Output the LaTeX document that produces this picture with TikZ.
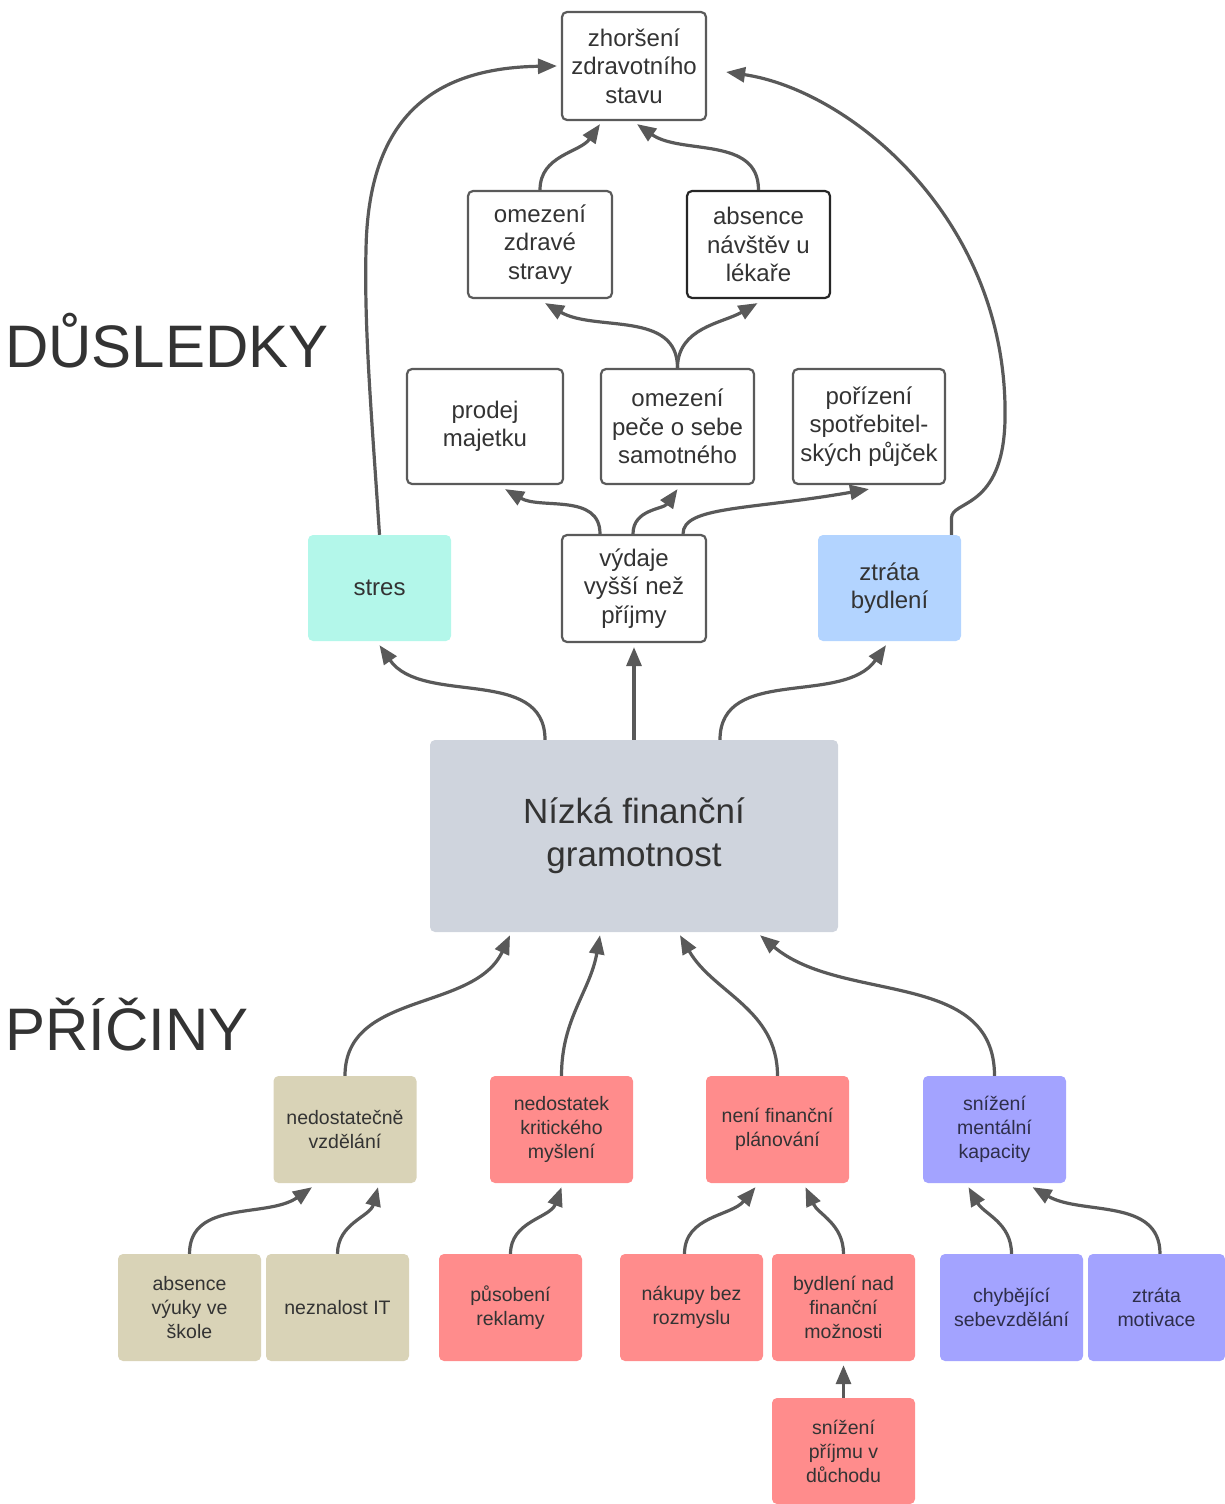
\documentclass[tikz,border=0pt]{standalone}
\usepackage{fontspec}
\setmainfont{Liberation Sans}
\usetikzlibrary{arrows.meta}
\definecolor{linegray}{HTML}{5A5A5A}
\definecolor{arrgray}{HTML}{595959}
\definecolor{txt}{HTML}{333333}
\definecolor{mint}{HTML}{B3F7EA}
\definecolor{skyb}{HTML}{B3D4FF}
\definecolor{grayc}{HTML}{CFD4DD}
\definecolor{tan}{HTML}{D9D3B7}
\definecolor{salmon}{HTML}{FF8C8C}
\definecolor{lav}{HTML}{A3A3FF}
\definecolor{lavtxt}{HTML}{2E2E4A}
\tikzset{
  wbox/.style={draw=linegray, line width=2.2pt, fill=white, rounded corners=5pt,
    inner sep=0pt, align=center, text=txt, font=\fontsize{24}{28.5}\selectfont},
  cbox/.style={rounded corners=5pt, inner sep=0pt, align=center, text=txt,
    font=\fontsize{19.5}{24}\selectfont, minimum width=143pt, minimum height=107pt},
  ubox/.style={rounded corners=5pt, inner sep=0pt, align=center, text=txt,
    font=\fontsize{24}{28.5}\selectfont, minimum width=143pt, minimum height=106pt},
  conn/.style={draw=arrgray, line width=3.2pt, -{Triangle[length=19pt,width=15pt]}},
  heading/.style={anchor=base west, inner sep=0pt, text=txt, font=\fontsize{60}{66}\selectfont}
}
\begin{document}
\begin{tikzpicture}[x=1pt,y=1pt]
\useasboundingbox (0,0) rectangle (1225,-1504);

% headings
\node[heading] (hdus) at (5,-367) {DŮSLEDKY};
\node[heading] (hpri) at (5,-1050) {PŘÍČINY};

% consequences
\node[wbox, minimum width=144pt, minimum height=108pt] (zhor) at (634,-66) {zhoršení\\zdravotního\\stavu};
\node[wbox, minimum width=144pt, minimum height=107pt] (strava) at (540,-244.5) {omezení\\zdravé\\stravy};
\node[wbox, draw=black!85, minimum width=143pt, minimum height=107pt] (absence) at (758.5,-244.5) {absence\\návštěv u\\lékaře};
\node[wbox, minimum width=156pt, minimum height=115pt] (prodej) at (485,-426.5) {prodej\\majetku};
\node[wbox, minimum width=153pt, minimum height=115pt] (pece) at (677.5,-426.5) {omezení\\peče o sebe\\samotného};
\node[wbox, minimum width=152pt, minimum height=115pt] (porizeni) at (869,-426.5) {pořízení\\spotřebitel-\\ských půjček};
\node[ubox, fill=mint] (stres) at (379.5,-588) {stres};
\node[wbox, minimum width=144pt, minimum height=107pt] (vydaje) at (634,-588.5) {výdaje\\vyšší než\\příjmy};
\node[ubox, fill=skyb] (ztrata) at (889.5,-588) {ztráta\\bydlení};

% central
\node[rounded corners=5pt, fill=grayc, minimum width=408pt, minimum height=192pt, inner sep=0pt,
  align=center, text=txt, font=\fontsize{35}{43}\selectfont] (nizka) at (634,-836) {Nízká finanční\\gramotnost};

% causes
\node[cbox, fill=tan] (nedost) at (345,-1129.5) {nedostatečně\\vzdělání};
\node[cbox, fill=salmon] (krit) at (561.5,-1129.5) {nedostatek\\kritického\\myšlení};
\node[cbox, fill=salmon] (plan) at (777.5,-1129.5) {není finanční\\plánování};
\node[cbox, fill=lav, text=lavtxt] (ment) at (994.5,-1129.5) {snížení\\mentální\\kapacity};

% sub-causes
\node[cbox, fill=tan] (vyuka) at (189.5,-1307.5) {absence\\výuky ve\\škole};
\node[cbox, fill=tan] (it) at (337.5,-1307.5) {neznalost IT};
\node[cbox, fill=salmon] (reklama) at (510.5,-1307.5) {působení\\reklamy};
\node[cbox, fill=salmon] (nakupy) at (691.5,-1307.5) {nákupy bez\\rozmyslu};
\node[cbox, fill=salmon] (bydleni) at (843.5,-1307.5) {bydlení nad\\finanční\\možnosti};
\node[cbox, fill=lav, text=lavtxt] (sebevz) at (1011.5,-1307.5) {chybějící\\sebevzdělání};
\node[cbox, fill=lav, text=lavtxt, minimum width=137pt] (motiv) at (1156.5,-1307.5) {ztráta\\motivace};
\node[cbox, fill=salmon, minimum height=106pt] (duchod) at (843.5,-1451) {snížení\\příjmu v\\důchodu};

% connectors: consequences
\draw[conn] (stres.north) .. controls (372,-420) and (364,-330) .. (366,-250)
  .. controls (368,-120) and (430,-68) .. ([xshift=-4pt]zhor.west);
\draw[conn] ([xshift=62pt]ztrata.north) -- (951.5,-518)
  .. controls (951.5,-500) and (1003,-510) .. (1005,-420)
  .. controls (1009,-220) and (850,-90) .. ([xshift=19pt,yshift=-6pt]zhor.east);
\draw[conn] (strava.north) to[out=90,in=-125] ([xshift=-34pt,yshift=-3pt]zhor.south);
\draw[conn] (absence.north) to[out=90,in=-35] ([xshift=3pt,yshift=-3pt]zhor.south);
\draw[conn] (pece.north) to[out=90,in=-30] ([xshift=5pt,yshift=-4pt]strava.south);
\draw[conn] (pece.north) to[out=90,in=-150] ([xshift=-1pt,yshift=-4pt]absence.south);
\draw[conn] ([xshift=-34pt]vydaje.north) to[out=90,in=-30] ([xshift=20pt,yshift=-4pt]prodej.south);
\draw[conn] ([xshift=-1pt]vydaje.north) to[out=90,in=-125] ([yshift=-4pt]pece.south);
\draw[conn] ([xshift=49pt]vydaje.north) .. controls (683,-506) and (750,-510) .. ([yshift=-4pt]porizeni.south);

% connectors: central
\draw[conn] ([xshift=-89pt]nizka.north) to[out=90,in=-55] ([yshift=-4pt]stres.south);
\draw[conn] (nizka.north) -- ([yshift=-4pt]vydaje.south);
\draw[conn] ([xshift=86pt]nizka.north) to[out=90,in=-125] ([xshift=-3.5pt,yshift=-4pt]ztrata.south);

% connectors: causes
\draw[conn] (nedost.north) to[out=90,in=-115] ([xshift=-124pt,yshift=-3pt]nizka.south);
\draw[conn] (krit.north) to[out=90,in=-100] ([xshift=-34pt,yshift=-3pt]nizka.south);
\draw[conn] (plan.north) to[out=90,in=-60] ([xshift=46pt,yshift=-3pt]nizka.south);
\draw[conn] (ment.north) to[out=90,in=-40] ([xshift=126pt,yshift=-3pt]nizka.south);

% connectors: sub-causes
\draw[conn] (vyuka.north) to[out=90,in=-145] ([xshift=-33pt,yshift=-4pt]nedost.south);
\draw[conn] (it.north) to[out=90,in=-105] ([xshift=33pt,yshift=-4pt]nedost.south);
\draw[conn] (reklama.north) to[out=90,in=-110] ([yshift=-4pt]krit.south);
\draw[conn] ([xshift=-7pt]nakupy.north) to[out=90,in=-130] ([xshift=-22pt,yshift=-4pt]plan.south);
\draw[conn] (bydleni.north) to[out=90,in=-65] ([xshift=28pt,yshift=-4pt]plan.south);
\draw[conn] (sebevz.north) to[out=90,in=-60] ([xshift=-26pt,yshift=-4pt]ment.south);
\draw[conn] ([xshift=3.5pt]motiv.north) to[out=90,in=-30] ([xshift=38pt,yshift=-4pt]ment.south);
\draw[conn] (duchod.north) -- ([yshift=-4pt]bydleni.south);
\end{tikzpicture}
\end{document}
